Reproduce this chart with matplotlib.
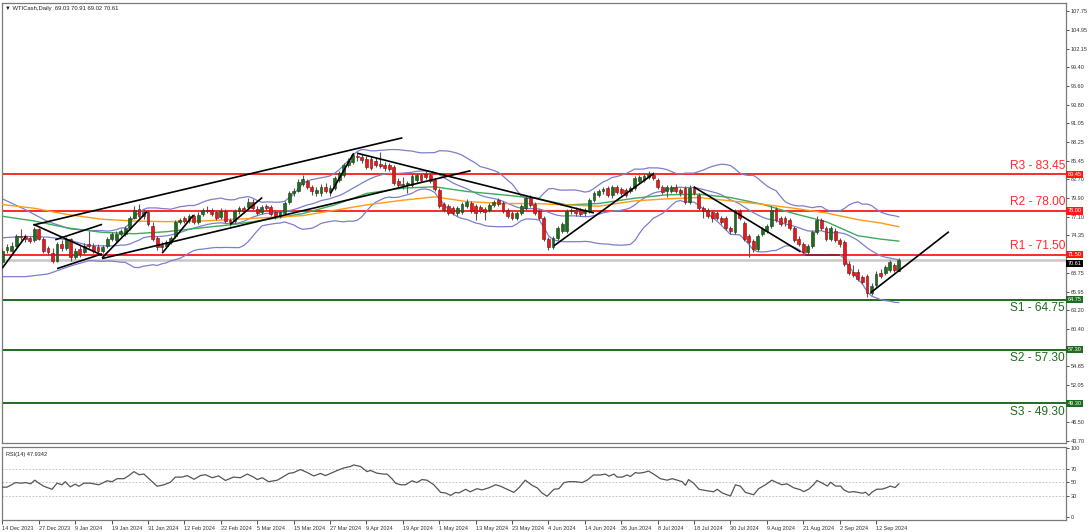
import matplotlib
matplotlib.use("Agg")
import matplotlib.pyplot as plt
import matplotlib.transforms as mtransforms
import numpy as np
import pandas as pd

# ---------------- data ----------------
opens = [70.4,72.2,72.1,72.8,74.3,74.2,73.9,73.6,75.3,73.8,72.4,71.8,70.6,73.1,72.5,73.8,71.1,72.3,71.9,73.1,
         72.8,72.6,72.0,72.8,73.8,73.6,74.5,74.6,75.5,77.0,78.3,77.2,77.8,75.8,74.0,72.9,72.8,73.3,74.3,76.3,
         76.9,76.6,77.2,76.3,77.6,78.2,78.1,77.8,77.1,78.0,76.7,76.5,78.0,78.4,78.6,79.4,78.3,77.8,78.7,78.6,
         77.8,77.3,77.7,79.4,80.7,81.0,82.0,82.4,81.5,80.7,80.6,81.6,80.8,81.4,82.6,83.4,84.8,85.3,86.2,86.1,
         85.8,85.8,85.5,85.0,84.9,84.8,84.5,82.5,81.9,81.8,81.9,82.6,83.3,83.5,83.3,82.6,81.1,79.0,78.7,78.4,
         77.7,77.9,78.7,79.2,78.7,78.6,78.3,78.1,78.9,79.7,79.2,78.2,77.7,77.0,77.7,78.4,80.0,79.0,78.0,77.0,
         73.8,72.6,74.0,75.0,75.0,78.0,78.2,78.1,77.7,78.0,79.7,80.4,80.9,81.4,80.4,81.5,81.3,81.1,80.9,81.4,
         82.4,82.6,83.1,83.4,82.6,81.6,80.9,81.0,81.6,81.1,81.4,79.4,81.4,80.4,78.5,78.2,77.9,77.7,77.0,77.0,
         75.5,74.8,78.0,76.2,74.3,73.5,72.3,74.5,75.0,75.8,78.3,77.0,76.9,76.7,75.4,73.8,73.1,71.9,72.7,74.8,
         76.7,75.4,73.8,75.0,73.6,73.3,70.1,68.9,68.9,68.2,68.3,65.8,67.0,68.8,68.7,69.2,69.9,69.03]
highs = [72.5,73.0,73.3,74.6,75.3,74.6,74.2,75.6,75.5,74.1,72.8,72.5,73.4,73.6,74.1,74.0,72.5,72.7,73.2,75.0,
         73.2,73.0,72.9,74.1,74.8,75.0,75.3,75.8,77.3,78.7,79.0,78.3,78.2,76.3,74.3,73.4,73.6,74.3,76.6,77.0,
         77.3,77.6,77.6,77.8,78.5,78.8,78.5,78.2,78.4,78.3,77.0,78.3,78.8,78.8,79.9,79.8,78.7,78.9,79.1,78.9,
         78.1,78.2,79.5,81.0,81.4,82.8,83.4,82.8,81.9,81.5,82.0,82.1,81.8,83.2,84.0,85.2,85.9,86.6,86.8,86.5,
         86.2,86.2,85.9,86.8,85.3,85.2,84.8,82.9,83.1,82.5,83.5,83.7,83.7,83.9,83.6,82.9,81.4,79.4,79.0,78.7,
         78.8,79.4,79.8,79.5,79.0,78.9,78.6,79.2,79.7,80.0,79.5,78.5,78.0,78.0,79.0,80.4,80.4,79.3,78.3,77.3,
         74.1,74.3,75.8,76.3,78.3,78.5,78.6,78.5,78.5,80.0,81.0,81.3,81.6,81.7,81.8,81.9,81.6,81.4,81.7,83.2,
         83.4,83.6,84.0,83.8,82.9,81.9,81.8,81.9,82.0,81.4,81.7,81.8,81.7,80.7,78.8,78.5,78.2,78.0,77.3,77.3,
         75.8,78.3,78.3,76.5,74.6,73.8,74.6,75.6,76.1,78.7,78.6,77.3,77.2,77.0,75.7,74.2,73.4,73.1,75.1,77.2,
         77.0,75.8,75.7,75.4,73.9,73.6,70.5,69.9,69.3,68.5,68.6,67.2,69.0,69.4,69.9,70.7,70.3,70.91]
lows = [69.4,71.8,71.9,72.6,73.6,73.4,73.2,73.4,73.6,71.8,71.5,70.3,70.4,72.1,72.2,70.6,70.8,71.2,71.6,72.4,
        71.7,71.6,71.7,72.5,73.5,73.3,74.2,74.3,75.2,76.8,76.9,76.8,75.7,73.5,72.2,72.1,72.4,73.0,74.0,76.0,
        76.2,76.2,76.0,76.0,77.2,77.7,77.3,76.6,76.8,76.2,75.8,76.2,77.6,77.7,78.3,78.2,77.4,77.5,78.2,77.3,
        76.8,76.9,77.4,79.1,80.3,80.8,81.7,81.2,80.4,80.2,80.3,80.6,80.2,81.1,82.3,83.1,84.5,85.0,85.5,85.2,
        84.3,84.1,84.5,84.4,84.0,83.9,81.8,81.6,81.2,80.7,81.5,82.3,82.3,82.8,82.1,80.9,78.4,77.9,77.4,77.4,
        77.3,77.6,78.4,77.7,76.7,77.7,76.6,77.8,78.6,78.7,77.7,76.9,76.6,76.6,77.4,78.1,78.6,77.4,76.6,73.5,
        72.2,72.3,73.7,74.7,74.7,77.5,77.3,77.2,77.3,77.7,79.4,80.1,80.5,80.1,80.0,80.5,80.4,80.1,80.6,81.1,
        82.1,82.3,82.8,82.6,81.3,80.5,80.1,80.7,80.6,80.3,79.1,79.1,80.4,78.2,77.0,76.9,76.4,76.7,76.0,75.2,
        74.6,74.5,76.7,73.5,71.2,71.9,72.0,74.2,74.7,75.5,76.4,75.7,75.8,75.2,73.3,72.8,71.6,71.6,72.4,74.5,
        75.2,73.5,73.5,73.3,72.6,69.8,68.4,68.1,67.6,67.1,65.2,65.5,66.7,68.0,68.4,68.9,68.9,69.02]
closes = [72.1,72.6,72.8,74.3,74.1,73.8,73.5,75.3,73.8,72.1,71.9,70.6,73.1,72.5,73.8,71.1,72.1,71.6,72.8,72.7,
          72.1,72.0,72.6,73.8,74.5,74.6,75.0,75.5,77.0,78.2,77.2,77.9,76.0,73.8,72.6,72.6,73.3,74.0,76.3,76.6,
          76.5,77.2,76.3,77.4,78.1,78.0,77.6,77.0,78.0,76.5,76.3,78.0,78.4,78.0,79.4,78.5,77.7,78.6,78.5,77.6,
          77.2,77.9,79.2,80.6,80.9,82.3,82.7,81.6,80.9,81.1,81.6,80.9,81.4,82.9,83.6,84.8,85.5,86.3,86.0,85.6,
          84.6,84.4,84.8,84.7,84.4,84.3,82.1,81.9,82.0,82.1,83.2,83.3,82.6,83.1,82.4,81.2,78.7,78.2,77.7,77.7,
          78.5,79.0,79.4,78.0,77.7,78.0,77.9,78.9,79.4,79.0,78.0,77.2,77.0,77.7,78.7,80.0,78.9,77.7,77.0,73.8,
          72.6,74.0,75.5,76.0,78.0,78.1,77.7,77.6,78.2,79.7,80.7,80.9,81.2,80.4,81.5,80.8,80.7,80.4,81.4,82.9,
          83.1,83.2,83.5,82.9,81.6,80.8,81.5,81.6,80.9,80.7,79.4,81.4,80.7,78.5,78.0,77.2,77.0,77.0,76.3,75.5,
          75.0,78.0,77.0,73.8,73.3,72.3,74.3,75.3,75.8,78.2,76.7,76.0,76.3,75.5,73.6,73.1,71.9,72.8,74.8,76.7,
          75.5,73.8,75.4,73.6,73.1,70.1,68.7,68.4,67.9,67.4,65.7,66.8,68.6,68.3,69.6,70.4,69.2,70.61]

# Bollinger band values for the first bars (before 20 closes are on screen)
bb_early_bars = [0, 5, 10, 15]
bb_early_upper = [79.8, 78.2, 76.4, 75.3]
bb_early_middle = [74.0, 74.2, 74.1, 73.6]
bb_early_lower = [68.2, 68.2, 68.6, 69.8]
bb_period = 20
bb_width = 2.0

# moving averages (bar index, price)
ma_bars = [0, 7, 14, 22, 29, 36, 44, 51, 58, 66, 73, 80, 88, 95, 102, 110, 117, 124, 131, 139, 146, 153, 160, 167, 174, 181, 188, 193, 197]
ma_fast = [77.2, 76.5, 75.5, 74.8, 74.6, 74.9, 75.5, 76.0, 76.7, 77.6, 78.9, 80.6, 81.4, 81.6, 80.9, 80.4, 79.9, 78.9, 79.1, 79.9, 80.4, 80.5, 80.0, 79.0, 77.6, 76.4, 74.3, 73.8, 73.5]
ma_slow = [78.95, 78.4, 77.5, 76.75, 76.5, 76.4, 76.5, 76.75, 77.0, 77.3, 78.1, 78.9, 79.6, 80.1, 79.4, 79.1, 79.1, 78.9, 78.7, 79.5, 79.8, 80.0, 79.5, 79.0, 78.4, 77.7, 76.7, 76.2, 75.65]

rsi_x = [0,1,2.9,4,5.1,6.2,7.1,8,9.1,10.9,12,13.1,13.8,14.9,16,16.8,17.9,19.3,21.2,23,24.1,25.2,26.7,27.8,28.9,30,31.1,32.2,34,35.5,
         36.9,38,39.5,40.6,42.1,43.5,44.6,46.1,47.5,49,50.8,52.3,53.8,55.2,56,57.1,58.5,60.4,61.8,62.9,64,65.5,67,68.4,69.9,71,72.5,73.6,75,76.5,
         77.2,78.7,80.1,80.9,82.3,83.8,84.5,85.6,86.4,87.5,88.6,90,91.1,92.2,93.3,94.8,96.3,97.4,98.5,99.6,100.3,101.8,102.8,104.3,105.4,106.9,108.4,109.5,110.9,112.4,
         113.5,114.9,116.4,117.5,118.6,119.7,121.2,122.3,123.4,124.5,125.9,127.4,128.5,129.9,131.4,132.5,133.3,134.4,135.1,136.2,137.3,138,139.1,139.8,140.9,142,143.1,144.6,146.1,147.2,
         148.3,149.4,150.1,150.8,151.9,153.1,154.9,156.3,157.1,158.2,160,161.1,162.2,163.3,165.1,166.2,167.7,169.1,170.2,171.3,172.4,173.9,175.4,176.1,177.2,178.3,179,180.1,181.3,182,
         183.1,184.2,184.9,186,187.1,187.9,189,189.7,190.4,191.1,192.2,193.3,194.4,195.1,196.2,197]
rsi_y = [42.9,42.9,49.6,48.7,49.6,47.8,53.1,48.7,44.2,39.8,48.7,46.4,50.9,43.3,47.3,44.2,48.7,48.7,46.4,52.2,50.9,55.3,55.3,59.8,65.6,61.1,62.0,55.3,44.2,46.4,
         50.0,57.6,57.6,59.8,54.4,59.8,61.1,56.7,59.3,52.7,57.6,56.7,62.0,57.6,54.0,56.7,50.9,53.1,58.4,62.9,64.2,68.7,64.2,59.3,62.9,59.8,64.2,67.3,70.9,73.1,
         75.3,73.1,65.6,67.3,63.3,62.0,62.0,55.3,48.7,46.4,46.4,52.2,49.6,54.0,53.1,46.4,35.3,34.4,30.9,35.3,34.4,39.8,36.2,40.7,38.9,42.0,46.4,44.2,39.8,35.3,
         42.0,53.1,45.6,42.0,34.4,29.6,39.8,40.7,49.6,50.9,50.9,49.6,53.1,60.7,60.7,62.0,58.9,62.0,57.6,57.6,60.7,58.4,64.2,63.3,64.2,66.4,62.0,55.3,53.1,55.3,
         53.1,50.9,45.6,54.0,48.7,39.8,37.6,36.2,39.8,34.4,30.0,46.4,44.2,35.3,31.8,40.7,46.4,53.1,49.6,46.4,47.8,42.0,39.1,36.4,40.0,46.8,52.7,49.1,44.5,50.0,
         44.5,44.5,39.1,35.5,36.4,35.5,34.1,35.5,30.9,35.5,40.0,40.0,42.3,44.5,42.3,47.93]

resistances = [83.45, 78.00, 71.50]
res_names = ["R3", "R2", "R1"]
supports = [64.75, 57.30, 49.30]
sup_names = ["S1", "S2", "S3"]
last_price = 70.61

# analyst trend lines: (bar0, price0, bar1, price1)
trend_lines = [
    (0.0, 69.5, 5.1, 74.2),
    (6.8, 75.9, 87.9, 88.9),
    (21.9, 70.9, 102.9, 84.0),
    (6.8, 76.0, 21.9, 71.4),
    (11.6, 73.7, 21.9, 76.0),
    (12.0, 69.4, 21.9, 71.6),
    (21.9, 71.0, 31.8, 77.9),
    (35.1, 71.7, 42.0, 77.4),
    (50.1, 76.0, 57.1, 80.0),
    (72.1, 80.6, 77.2, 86.6),
    (78.0, 86.6, 130.0, 77.7),
    (121.2, 72.8, 143.2, 83.6),
    (151.9, 81.6, 175.4, 71.9),
    (190.8, 65.8, 208.0, 74.9),
]
flat_line = (176.7, 71.5, 183.9, 71.5)

price_ticks = [107.75, 104.95, 102.15, 99.40, 96.60, 93.80, 91.05, 88.25, 85.45, 82.70, 79.90, 77.10,
               74.35, 71.55, 68.75, 65.95, 63.20, 60.40, 57.60, 54.85, 52.05, 49.25, 46.50, 43.70]
date_labels = ["14 Dec 2023", "27 Dec 2023", "9 Jan 2024", "19 Jan 2024", "31 Jan 2024", "12 Feb 2024",
               "22 Feb 2024", "5 Mar 2024", "15 Mar 2024", "27 Mar 2024", "9 Apr 2024", "19 Apr 2024",
               "1 May 2024", "13 May 2024", "23 May 2024", "4 Jun 2024", "14 Jun 2024", "26 Jun 2024",
               "8 Jul 2024", "18 Jul 2024", "30 Jul 2024", "9 Aug 2024", "21 Aug 2024", "2 Sep 2024", "12 Sep 2024"]
label_step = 8
title_text = "WTICash,Daily  69.03 70.91 69.02 70.61"
rsi_title = "RSI(14) 47.9342"
rsi_ticks = [100, 70, 50, 30, 0]
rsi_levels = [70, 50, 30]

# ---------------- drawing ----------------
plt.rcParams['font.family'] = ['Liberation Sans', 'DejaVu Sans']
W, H = 1090, 532
fig = plt.figure(figsize=(W / 100, H / 100), dpi=100)
fig.patch.set_facecolor('white')

ax = fig.add_axes([2 / W, 1 - 443 / H, 1064 / W, 440 / H])
axr = fig.add_axes([2 / W, 1 - 520 / H, 1064 / W, 73 / H])

n = len(closes)
x = np.arange(n)
xlim = (-0.1, 1064 / 4.55 - 0.1)

GREEN = '#1c6e1c'
RED = '#e8191b'
BB = '#7b7fcf'
SPINE = '#7a7a7a'
SMALL = 4.0

for a in (ax, axr):
    a.set_xlim(*xlim)
    for s in a.spines.values():
        s.set_color(SPINE)
        s.set_linewidth(0.9)
    a.set_facecolor('white')

ax.set_ylim(43.4, 109.0)

# levels
for lvl in resistances:
    ax.axhline(lvl, color='#ff2a2a', lw=1.4, zorder=2)
for lvl in supports:
    ax.axhline(lvl, color='#1f6b1f', lw=1.4, zorder=2)
ax.axhline(last_price, color='#c8c8c8', lw=1.8, zorder=1.5)

# Bollinger bands (20, 2) from the closes; the first bars use values
cs = pd.Series(closes)
mid = cs.rolling(bb_period).mean()
sd = cs.rolling(bb_period).std(ddof=0)
start = bb_period - 1
bx = list(bb_early_bars) + list(range(start, n))
for early, series in ((bb_early_upper, mid + bb_width * sd), (bb_early_middle, mid), (bb_early_lower, mid - bb_width * sd)):
    ax.plot(bx, list(early) + list(series.iloc[start:]), color=BB, lw=0.9, zorder=2.5)

ax.plot(ma_bars, ma_fast, color='#3daa5c', lw=1.0, zorder=2.6)
ax.plot(ma_bars, ma_slow, color='#ff9a1a', lw=1.0, zorder=2.6)

# candles
o = np.array(opens); c = np.array(closes); h = np.array(highs); l = np.array(lows)
up = c >= o
ax.vlines(x, l, h, color='#555555', lw=0.8, zorder=3)
ax.bar(x[up], (c - o)[up], bottom=o[up], width=0.62, color=GREEN, edgecolor='#1a3a1a', lw=0.4, zorder=4)
ax.bar(x[~up], (o - c)[~up], bottom=c[~up], width=0.62, color=RED, edgecolor='#7a1010', lw=0.4, zorder=4)

# trend lines
for b0, p0, b1, p1 in trend_lines:
    ax.plot([b0, b1], [p0, p1], color='black', lw=1.2, zorder=5, solid_capstyle='butt')
ax.plot([flat_line[0], flat_line[2]], [flat_line[1], flat_line[3]], color='#8b1a1a', lw=1.2, zorder=5)

bt = mtransforms.blended_transform_factory(ax.transAxes, ax.transData)

# level labels
for name, lvl in zip(res_names, resistances):
    ax.text(0.9990, lvl + 0.4, f"{name} - {lvl:.2f}", transform=bt,
            ha='right', va='bottom', color='#ff2a2a', fontsize=8.6, zorder=6)
for name, lvl in zip(sup_names, supports):
    ax.text(0.9990, lvl - 0.35, f"{name} - {lvl:.2f}", transform=bt,
            ha='right', va='top', color='#1f6b1f', fontsize=8.6, zorder=6)

# right price axis
ax.yaxis.tick_right()
ax.set_yticks(price_ticks)
covered = resistances + supports
ax.set_yticklabels(["" if min(abs(t - lv) for lv in covered) < 0.4 else f"{t:.2f}" for t in price_ticks])
ax.tick_params(axis='y', labelsize=SMALL, length=2, width=0.6, colors='#333333', pad=1.5)
ax.tick_params(axis='x', bottom=False, labelbottom=False)

for lvl in resistances:
    ax.text(1.0015, lvl, f"{lvl:.2f}", transform=bt, ha='left', va='center', fontsize=SMALL, color='white',
            bbox=dict(boxstyle='square,pad=0.2', fc='#ff1a1a', ec='none'), zorder=10, clip_on=False)
for lvl in supports:
    ax.text(1.0015, lvl, f"{lvl:.2f}", transform=bt, ha='left', va='center', fontsize=SMALL, color='white',
            bbox=dict(boxstyle='square,pad=0.2', fc='#1f6b1f', ec='none'), zorder=10, clip_on=False)
ax.text(1.0015, last_price - 0.45, f"{last_price:.2f}", transform=bt, ha='left', va='center', fontsize=SMALL, color='white',
        bbox=dict(boxstyle='square,pad=0.2', fc='black', ec='none'), zorder=10, clip_on=False)

ax.text(0.003, 0.993, "\u25bc " + title_text, transform=ax.transAxes, ha='left', va='top', fontsize=4.2,
        color='#222222', family=['Liberation Sans', 'DejaVu Sans'])

# RSI panel
axr.set_ylim(-5, 101.5)
for lv in rsi_levels:
    axr.axhline(lv, color='#b8b8b8', lw=0.6, ls=(0, (2, 2)), zorder=1)
axr.plot(rsi_x, rsi_y, color='#555555', lw=0.9, zorder=3)
axr.yaxis.tick_right()
axr.set_yticks(rsi_ticks)
axr.set_yticklabels([str(t) for t in rsi_ticks])
axr.tick_params(axis='y', labelsize=SMALL, length=2, width=0.6, colors='#333333', pad=1.5)
tick_pos = [i * label_step for i in range(len(date_labels))]
axr.set_xticks(tick_pos)
axr.set_xticklabels(date_labels, ha='left')
axr.tick_params(axis='x', labelsize=SMALL, length=3, width=0.6, colors='#333333', pad=1)
axr.text(0.004, 0.93, rsi_title, transform=axr.transAxes, ha='left', va='top', fontsize=SMALL, color='#222222')

fig.savefig('out.png', dpi=100, facecolor='white')
